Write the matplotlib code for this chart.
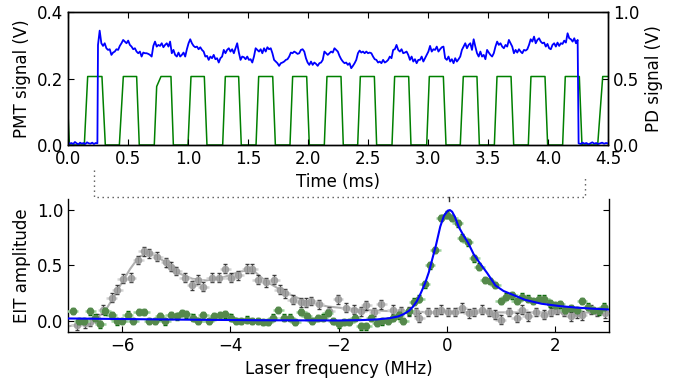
"""
Pulsed PMT / photodiode trace (top) and EIT spectra (bottom).
"""
import numpy as np
import matplotlib
matplotlib.use('Agg')
import matplotlib.pyplot as plt
from matplotlib.lines import Line2D
from matplotlib.transforms import blended_transform_factory

# ---- top panel: PMT signal (V) ----
pmt_pre = [0.008, 0.004, 0.006, 0.003, 0.009, 0.005, 0.002, 0.007, 0.004,
           0.006, 0.003, 0.008, 0.005, 0.004, 0.007, 0.003, 0.006, 0.005]
pmt_on = [
    0.301, 0.344, 0.306, 0.298, 0.306, 0.291, 0.286, 0.288, 0.271, 0.278,
    0.281, 0.288, 0.286, 0.298, 0.306, 0.316, 0.311, 0.306, 0.314, 0.301,
    0.296, 0.288, 0.291, 0.281, 0.276, 0.281, 0.266, 0.278, 0.276, 0.276,
    0.274, 0.271, 0.266, 0.298, 0.311, 0.296, 0.301, 0.298, 0.306, 0.294,
    0.301, 0.306, 0.296, 0.311, 0.276, 0.286, 0.271, 0.266, 0.278, 0.266,
    0.271, 0.278, 0.266, 0.288, 0.306, 0.318, 0.306, 0.298, 0.294, 0.296,
    0.288, 0.294, 0.286, 0.281, 0.266, 0.268, 0.256, 0.266, 0.261, 0.271,
    0.258, 0.261, 0.248, 0.261, 0.266, 0.286, 0.276, 0.286, 0.291, 0.281,
    0.288, 0.276, 0.291, 0.306, 0.278, 0.256, 0.266, 0.264, 0.258, 0.266,
    0.256,
    0.258, 0.248, 0.266, 0.291, 0.286, 0.281, 0.288, 0.276, 0.291, 0.281,
    0.294, 0.288, 0.291, 0.276, 0.256, 0.251, 0.246, 0.238, 0.246, 0.248,
    0.251, 0.256, 0.258, 0.266, 0.278, 0.276, 0.281, 0.278, 0.274, 0.276,
    0.286, 0.288, 0.281, 0.261, 0.248, 0.241, 0.251, 0.241, 0.248, 0.244,
    0.238, 0.246, 0.248, 0.256, 0.281, 0.276, 0.271, 0.276, 0.281, 0.278,
    0.291, 0.286, 0.281, 0.268, 0.258, 0.251, 0.246, 0.248, 0.241, 0.246,
    0.231, 0.238, 0.246, 0.256, 0.276, 0.284, 0.278, 0.281, 0.276, 0.281,
    0.276, 0.278, 0.276, 0.266, 0.258, 0.256, 0.248, 0.251, 0.246, 0.256,
    0.248, 0.251, 0.256, 0.266, 0.261, 0.286, 0.288, 0.301, 0.286, 0.281,
    0.288, 0.276, 0.278, 0.281, 0.271, 0.256, 0.266, 0.251, 0.258, 0.246,
    0.256, 0.256, 0.266, 0.251, 0.261, 0.271, 0.281,
    0.298, 0.281, 0.288, 0.286, 0.296, 0.281, 0.288, 0.294, 0.296, 0.261,
    0.256, 0.266, 0.251, 0.258, 0.246, 0.261, 0.251, 0.258, 0.266, 0.286,
    0.296, 0.306, 0.291, 0.301, 0.306, 0.286, 0.318, 0.296, 0.276, 0.266,
    0.281, 0.266, 0.271, 0.258, 0.286, 0.278, 0.271, 0.266, 0.276, 0.296,
    0.311, 0.301, 0.306, 0.296, 0.291, 0.301, 0.296, 0.316, 0.306, 0.296,
    0.276, 0.286, 0.278, 0.288, 0.281, 0.276, 0.286, 0.284, 0.288, 0.301,
    0.318, 0.311, 0.326, 0.306, 0.316, 0.321, 0.311, 0.306, 0.308, 0.296,
    0.304, 0.291, 0.288, 0.301, 0.306, 0.296, 0.308, 0.298, 0.306, 0.304,
    0.314, 0.308, 0.336, 0.321, 0.318, 0.311, 0.321, 0.306, 0.316]
pmt_post = [0.005, 0.003, 0.007, 0.004, 0.006, 0.002, 0.005, 0.008, 0.004,
            0.006, 0.003, 0.005, 0.007, 0.004, 0.006, 0.005]
t_laser_on, t_last_on, t_laser_off = 0.25, 4.247, 4.255

# ---- top panel: PD pulses (ms), high level in V ----
pd_rise_start = [0.136, 0.428, 0.719, 1.000, 1.289, 1.567, 1.850, 2.136,
                 2.414, 2.700, 2.989, 3.269, 3.553, 3.836, 4.122, 4.414]
pd_top_start = [0.164, 0.461, 0.775, 1.025, 1.311, 1.589, 1.872, 2.158,
                2.436, 2.722, 3.011, 3.294, 3.575, 3.858, 4.144, 4.456]
pd_top_end = [0.283, 0.572, 0.858, 1.136, 1.422, 1.706, 1.989, 2.275,
              2.553, 2.839, 3.128, 3.408, 3.692, 3.975, 4.261, 4.5]
pd_fall_end = [0.311, 0.594, 0.878, 1.158, 1.444, 1.728, 2.011, 2.294,
               2.572, 2.858, 3.150, 3.428, 3.714, 3.997, 4.283, 4.5]
pd_high = 0.515
pd_start = [(0.0, 0.24), (0.012, 0.0)]
pd_kink = (0.739, 0.44)   # shoulder on the third rising edge

# ---- bottom panel: EIT spectra ----
gray_f = [-6.84, -6.69, -6.59, -6.47, -6.35, -6.19, -6.09, -5.99, -5.84,
          -5.70, -5.60, -5.50, -5.35, -5.19, -5.10, -5.00, -4.84, -4.70,
          -4.60, -4.50, -4.34, -4.20, -4.09, -3.99, -3.85, -3.69, -3.59,
          -3.49, -3.34, -3.19, -3.09, -2.99, -2.85, -2.70, -2.60, -2.50,
          -2.36, -2.17, -2.01, -1.86, -1.71, -1.58, -1.49, -1.34, -1.21,
          -1.00, -0.84, -0.70, -0.57, -0.51, -0.34, -0.20, -0.11, 0.02,
          0.16, 0.28, 0.41, 0.51, 0.65, 0.79, 0.90, 1.00, 1.15, 1.29,
          1.40, 1.50, 1.65, 1.79, 1.93, 2.03, 2.16, 2.30, 2.40, 2.50,
          2.67, 2.77, 2.93]
gray_v = [-0.04, -0.02, -0.01, 0.02, 0.10, 0.21, 0.28, 0.38, 0.39,
          0.55, 0.63, 0.61, 0.58, 0.53, 0.49, 0.45, 0.39, 0.32,
          0.37, 0.31, 0.39, 0.39, 0.47, 0.39, 0.41, 0.47, 0.47,
          0.37, 0.35, 0.37, 0.28, 0.25, 0.19, 0.17, 0.165, 0.18,
          0.15, 0.09, 0.195, 0.12, 0.10, 0.085, 0.14, 0.08, 0.15,
          0.10, 0.09, 0.085, 0.08, 0.03, 0.08, 0.08, 0.10, 0.08,
          0.08, 0.12, 0.07, 0.08, 0.10, 0.08, 0.055, 0.01, 0.08, 0.03,
          0.10, 0.04, 0.08, 0.055, 0.08, 0.10, 0.08, 0.04, 0.07, 0.05,
          0.10, 0.08, 0.07]

green_f = [-6.91, -6.79, -6.70, -6.59, -6.50, -6.40, -6.31, -6.19, -6.10,
           -6.00, -5.90, -5.79, -5.69, -5.59, -5.50, -5.40, -5.30, -5.20,
           -5.10, -4.99, -4.89, -4.81, -4.69, -4.59, -4.50, -4.40, -4.30,
           -4.19, -4.09, -3.99, -3.89, -3.80, -3.70, -3.59, -3.49, -3.40,
           -3.31, -3.21, -3.11, -3.00, -2.90, -2.80, -2.69, -2.59, -2.49,
           -2.38, -2.29, -2.20, -2.10, -2.00, -1.89, -1.80, -1.69, -1.58,
           -1.49, -1.40, -1.29, -1.20, -1.09, -1.00, -0.89, -0.80, -0.70,
           -0.60, -0.51, -0.41, -0.31, -0.21, -0.10, 0.00, 0.10, 0.20,
           0.29, 0.39, 0.51, 0.60, 0.71, 0.80, 0.90, 1.00, 1.10, 1.21,
           1.29, 1.40, 1.50, 1.60, 1.70, 1.80, 1.90, 2.01, 2.09, 2.19,
           2.30, 2.40, 2.50, 2.61, 2.70, 2.81, 2.91]
green_v = [0.09, 0.0, 0.0, 0.085, 0.03, -0.03, 0.085, 0.05, -0.005,
           0.0, 0.055, 0.0, 0.08, 0.08, 0.0, 0.0, 0.04, -0.005,
           0.05, 0.04, 0.07, 0.06, 0.03, 0.0, 0.05, 0.0, 0.04,
           0.05, 0.06, 0.03, 0.0, 0.0, 0.01, 0.0, 0.0, -0.01,
           -0.01, 0.03, 0.10, 0.03, 0.03, -0.01, 0.08, 0.04, 0.0,
           0.025, 0.03, 0.07, 0.0, -0.03, -0.01, -0.01, 0.025, -0.05,
           -0.05, 0.025, -0.02, -0.005, 0.0, 0.025, 0.05, 0.0, 0.085,
           0.175, 0.20, 0.33, 0.50, 0.64, 0.93, 0.96, 0.93, 0.88,
           0.75, 0.71, 0.565, 0.49, 0.37, 0.36, 0.325, 0.18, 0.22, 0.23,
           0.18, 0.22, 0.20, 0.18, 0.20, 0.20, 0.16, 0.145, 0.15, 0.10,
           0.115, 0.10, 0.18, 0.13, 0.10, 0.085, 0.13]

gray_fit_f = [-7.0, -6.8, -6.6, -6.45, -6.3, -6.15, -6.0, -5.85, -5.7, -5.55,
              -5.4, -5.2, -5.0, -4.7, -4.45, -4.15, -3.85, -3.68, -3.55,
              -3.35, -3.0, -2.6, -2.2, -1.6, -0.9, -0.3, 0.5, 1.5, 3.0]
gray_fit_v = [-0.05, -0.03, -0.005, 0.03, 0.10, 0.22, 0.35, 0.47, 0.57, 0.615,
              0.595, 0.53, 0.44, 0.38, 0.365, 0.39, 0.44, 0.46, 0.445,
              0.36, 0.26, 0.175, 0.13, 0.10, 0.085, 0.08, 0.078, 0.076, 0.075]

blue_fit_f = [-7.0, -5.0, -3.5, -2.0, -1.6, -1.3, -1.05, -0.9, -0.8, -0.7,
              -0.62, -0.55, -0.48, -0.4, -0.33, -0.26, -0.2, -0.12, -0.05,
              0.02, 0.06, 0.1, 0.15, 0.22, 0.3, 0.4, 0.5, 0.6, 0.75, 0.9,
              1.05, 1.2, 1.45, 1.75, 2.1, 2.4, 2.7, 3.0]
blue_fit_v = [0.022, 0.012, 0.006, 0.004, 0.007, 0.013, 0.025, 0.04, 0.06, 0.09,
              0.13, 0.18, 0.25, 0.34, 0.44, 0.57, 0.68, 0.85, 0.95,
              0.995, 1.0, 0.985, 0.94, 0.85, 0.78, 0.70, 0.60, 0.53, 0.43, 0.32,
              0.27, 0.24, 0.19, 0.155, 0.133, 0.12, 0.11, 0.103]

gray_yerr, green_yerr, f_xerr = 0.04, 0.03, 0.1


plt.rcParams.update({
    'font.family': 'DejaVu Sans',
    'font.size': 12,
    'xtick.direction': 'in',
    'ytick.direction': 'in',
    'xtick.major.size': 4,
    'ytick.major.size': 4,
    'axes.linewidth': 1.0,
})

fig = plt.figure(figsize=(6.82, 3.82), dpi=100, facecolor='white')

# ---------------- top panel ----------------
ax1 = fig.add_axes([0.0997, 0.6204, 0.7918, 0.3482])
ax2 = ax1.twinx()

t_pre = np.linspace(0.0, t_laser_on - 0.005, len(pmt_pre))
t_on = np.linspace(t_laser_on, t_last_on, len(pmt_on))
t_post = np.linspace(t_laser_off, 4.5, len(pmt_post))
t_pmt = np.concatenate([t_pre, t_on, t_post])
v_pmt = np.concatenate([pmt_pre, pmt_on, pmt_post])

# photodiode trace from the pulse corners
t_pd = [p[0] for p in pd_start]
v_pd = [p[1] for p in pd_start]
for i in range(len(pd_rise_start)):
    t_pd.append(pd_rise_start[i]); v_pd.append(0.0)
    if i == 2:
        t_pd.append(pd_kink[0]); v_pd.append(pd_kink[1])
    t_pd.append(pd_top_start[i]); v_pd.append(pd_high)
    t_pd.append(pd_top_end[i]); v_pd.append(pd_high)
    if pd_fall_end[i] > pd_top_end[i]:
        t_pd.append(pd_fall_end[i]); v_pd.append(0.0)

ax2.plot(t_pd, v_pd, color='g', lw=1.1)
ax1.plot(t_pmt, v_pmt, color='b', lw=1.3)
ax1.set_zorder(ax2.get_zorder() + 1)
ax1.patch.set_visible(False)

ax1.set_xlim(0, 4.5)
ax1.set_ylim(0, 0.4)
ax2.set_ylim(0, 1.0)
ax1.set_xticks(np.arange(0, 4.51, 0.5))
ax1.set_yticks([0.0, 0.2, 0.4])
ax2.set_yticks([0.0, 0.5, 1.0])
ax1.tick_params(top=True)
ax1.set_xlabel('Time (ms)', labelpad=4)
ax1.set_ylabel('PMT signal (V)')
ax2.set_ylabel('PD signal (V)')

# ---------------- bottom panel ----------------
ax3 = fig.add_axes([0.0997, 0.1309, 0.7933, 0.3482])

ax3.plot(gray_fit_f, gray_fit_v, color='#b0b0b0', lw=1.5, zorder=1)
ax3.errorbar(gray_f, gray_v, xerr=f_xerr, fmt='none', ecolor='#d5d5d5',
             elinewidth=1.8, zorder=2)
ax3.errorbar(gray_f, gray_v, yerr=gray_yerr, fmt='o', color='#9a9a9a',
             mec='#9a9a9a', ms=4.5, ecolor='#222222', elinewidth=0.8,
             capsize=1.5, alpha=0.85, zorder=3)
ax3.errorbar(green_f, green_v, xerr=f_xerr, fmt='none', ecolor='#9fd49f',
             elinewidth=1.8, zorder=4)
ax3.errorbar(green_f, green_v, yerr=green_yerr, fmt='o', color='#55894b',
             mec='#55894b', ms=4.5, ecolor='#006400', elinewidth=0.8,
             capsize=1.5, zorder=5)
ax3.plot(blue_fit_f, blue_fit_v, color='b', lw=1.5, zorder=6)

ax3.set_xlim(-7, 3)
ax3.set_ylim(-0.1, 1.1)
ax3.set_xticks([-6, -4, -2, 0, 2])
ax3.set_yticks([0.0, 0.5, 1.0])
ax3.spines['top'].set_visible(False)
ax3.tick_params(top=False, right=True)
ax3.set_xlabel('Laser frequency (MHz)')
ax3.set_ylabel('EIT amplitude')

# dotted bracket linking the laser-on window to the spectrum
tr = blended_transform_factory(ax1.transData, fig.transFigure)
fig.add_artist(Line2D([0.22, 0.22, 4.31, 4.31],
                      [0.555, 0.4843, 0.4843, 0.542],
                      transform=tr, color='#555555', lw=1.0,
                      linestyle=(0, (1, 2.6))))
tr3 = blended_transform_factory(ax3.transData, fig.transFigure)
fig.add_artist(Line2D([0.05, 0.05], [0.4843, 0.474], transform=tr3,
                      color='#333333', lw=1.0))

fig.savefig('out.png', dpi=100, facecolor='white')
